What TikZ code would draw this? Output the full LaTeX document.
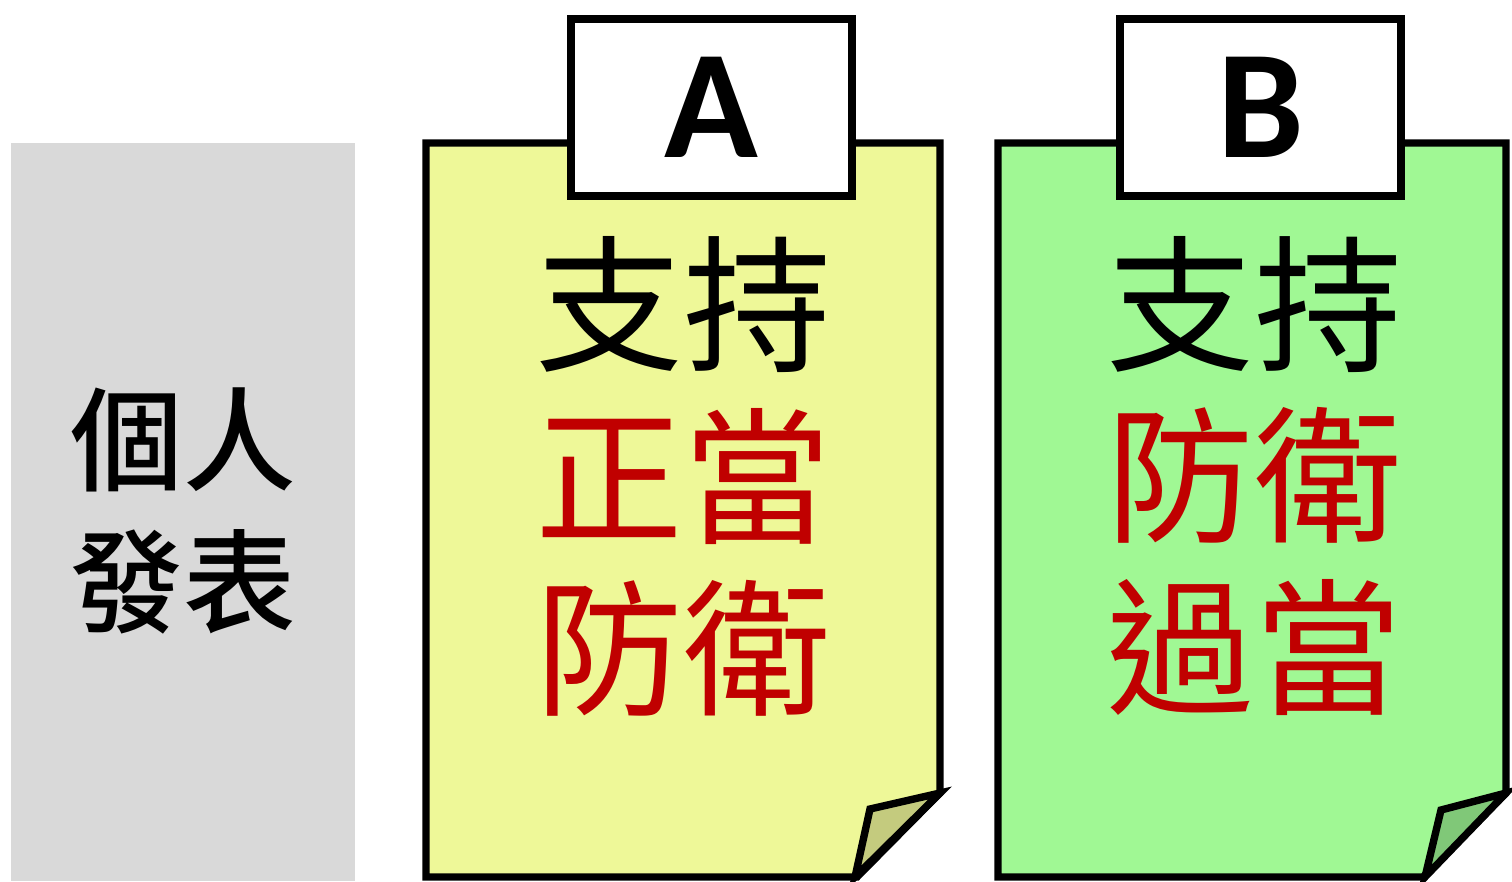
\documentclass[tikz,border=0pt]{standalone}
\usepackage{fontspec}
\setmainfont{Carlito}
\newfontfamily\cjksans{Noto Sans CJK TC}
\newfontfamily\cjkmed{Noto Sans CJK TC Medium}
\usepackage{xcolor}
\usepackage{tikz}
\usetikzlibrary{positioning,calc}

\definecolor{greybox}{HTML}{D9D9D9}
\definecolor{paperA}{HTML}{EEF898}
\definecolor{foldA}{HTML}{C4CB7E}
\definecolor{paperB}{HTML}{A0F894}
\definecolor{foldB}{HTML}{80C878}
\definecolor{redtxt}{HTML}{C00000}

\begin{document}
\begin{tikzpicture}[x=0.01cm,y=-0.01cm,
  paper/.style={draw=black,line width=2.1pt,miter limit=10},
  tabbox/.style={draw=black,fill=white,line width=2.1pt,
                 minimum width=2.81cm,minimum height=1.77cm,inner sep=0pt,
                 font=\bfseries\fontsize{44}{45}\selectfont},
  words/.style={font=\cjksans\fontsize{42}{48.9}\selectfont,
                align=center,inner sep=0pt}]

\useasboundingbox (0,0) rectangle (1512,881);

% Left box
\fill[greybox] (11,143) rectangle (355,881);
\node[words, font=\cjkmed\fontsize{32}{40.3}\selectfont]
  (talk) at (183,511) {個人\\發表};

% Paper A
\draw[paper, fill=paperA]
  (426,143) -- (940,143) -- (940,793) -- (857,877) -- (426,877) -- cycle;
\draw[paper, fill=foldA] (940,793) -- (870,809) -- (855,877) -- cycle;
\node[tabbox] (tabA) at (711.5,107.5) {A};
\node[words] (textA) at (683,476)
  {支持\\\textcolor{redtxt}{正當}\\\textcolor{redtxt}{防衛}};

% Paper B
\draw[paper, fill=paperB]
  (998,143) -- (1506,143) -- (1506,793) -- (1423,877) -- (998,877) -- cycle;
\draw[paper, fill=foldB] (1506,793) -- (1441,810) -- (1425,877) -- cycle;
\node[tabbox] (tabB) at (1260.5,107.5) {B};
\node[words] (textB) at (1254,476)
  {支持\\\textcolor{redtxt}{防衛}\\\textcolor{redtxt}{過當}};

\end{tikzpicture}
\end{document}
